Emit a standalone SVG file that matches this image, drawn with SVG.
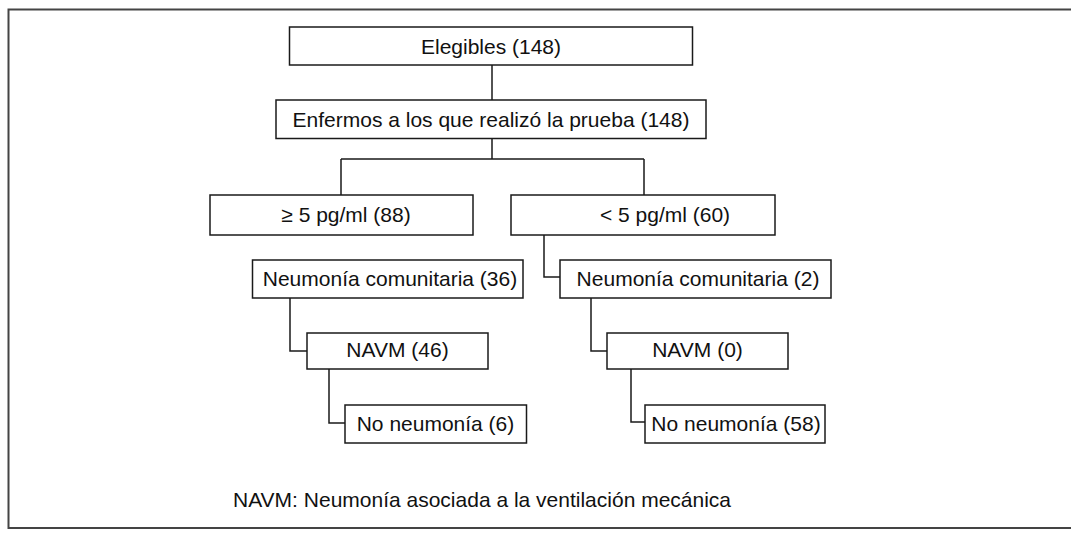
<svg xmlns="http://www.w3.org/2000/svg" width="1071" height="535" viewBox="0 0 1071 535">
<style>
.box{fill:#fff;stroke:#1a1a1a;stroke-width:1.5}
.lbl{font-family:"Liberation Sans",Arial,sans-serif;font-size:21px;fill:#111;text-anchor:middle}
.con{fill:none;stroke:#1a1a1a;stroke-width:1.5}
.frame{fill:none;stroke:#444;stroke-width:2}
</style>
<rect width="1071" height="535" fill="#fff"/>
<path class="frame" d="M1080,9.5 H8.5 V528 H1080"/>
<g id="connectors">
<path class="con" d="M492,65 V100"/>
<path class="con" d="M492,138.5 V159 M341,159 H644 M341,159 V195 M644,159 V195"/>
<path class="con" d="M544,235 V277 H560"/>
<path class="con" d="M290,298 V351 H307"/>
<path class="con" d="M329,369 V423 H345"/>
<path class="con" d="M591,298 V351 H607"/>
<path class="con" d="M631,369 V422 H645"/>
</g>
<g id="n_elegibles"><rect class="box" x="289.5" y="27" width="403" height="38"/><text class="lbl" x="491" y="54">Elegibles (148)</text></g>
<g id="n_enfermos"><rect class="box" x="276" y="100" width="430" height="38.5"/><text class="lbl" x="491" y="127">Enfermos a los que realizó la prueba (148)</text></g>
<g id="n_ge5"><rect class="box" x="210" y="195" width="263" height="40"/><text class="lbl" x="346" y="222">≥ 5 pg/ml (88)</text></g>
<g id="n_lt5"><rect class="box" x="511" y="195" width="264" height="40"/><text class="lbl" x="665" y="222">&lt; 5 pg/ml (60)</text></g>
<g id="n_nc36"><rect class="box" x="252.5" y="260" width="270.5" height="38"/><text class="lbl" x="390" y="286">Neumonía comunitaria (36)</text></g>
<g id="n_navm46"><rect class="box" x="307" y="333" width="181" height="36"/><text class="lbl" x="397.5" y="357">NAVM (46)</text></g>
<g id="n_nn6"><rect class="box" x="345" y="405" width="181.5" height="38"/><text class="lbl" x="435.5" y="431">No neumonía (6)</text></g>
<g id="n_nc2"><rect class="box" x="560" y="260" width="271" height="38"/><text class="lbl" x="698" y="286">Neumonía comunitaria (2)</text></g>
<g id="n_navm0"><rect class="box" x="607" y="333" width="181" height="36"/><text class="lbl" x="697.5" y="357">NAVM (0)</text></g>
<g id="n_nn58"><rect class="box" x="645" y="405" width="180" height="38"/><text class="lbl" x="736" y="431">No neumonía (58)</text></g>
<text x="233" y="507" style="font-family:'Liberation Sans',Arial,sans-serif;font-size:21px;fill:#111">NAVM: Neumonía asociada a la ventilación mecánica</text>
</svg>
